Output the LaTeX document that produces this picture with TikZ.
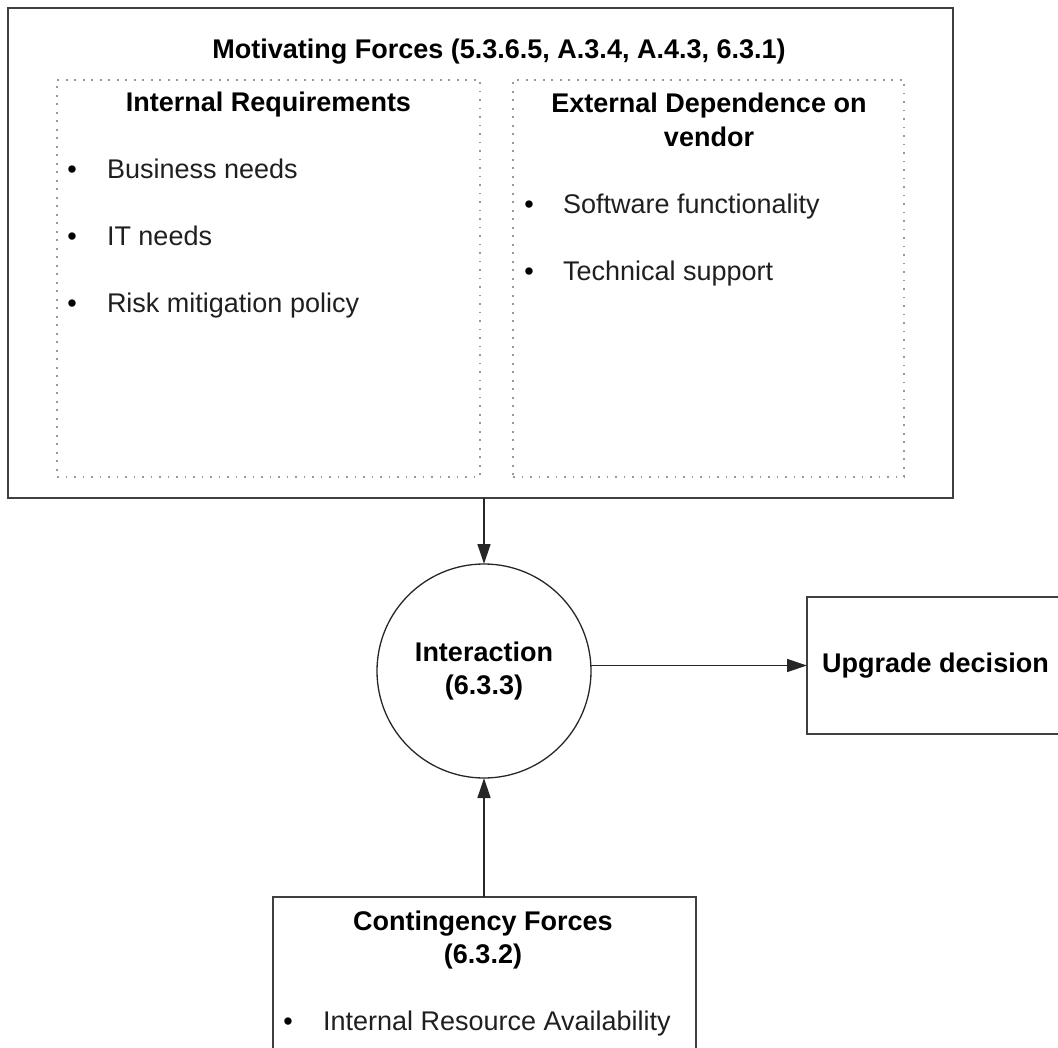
\documentclass[tikz,border=0pt]{standalone}
\usepackage{fontspec}
\setmainfont{Liberation Sans}
\usetikzlibrary{arrows.meta}
\begin{document}
\begin{tikzpicture}[x=1pt,y=-1pt,
  every node/.style={inner sep=0pt, outer sep=0pt, font=\fontsize{27}{33}\selectfont},
  mainbox/.style={rectangle, draw=black!75, line width=2.2pt},
  solidbox/.style={rectangle, draw=black!75, line width=1.6pt},
  dotbox/.style={rectangle, draw=black!40, line width=1.6pt, dash pattern=on 1.6pt off 6.9pt},
  ttl/.style={font=\fontsize{27}{33}\selectfont\bfseries, anchor=base},
  itm/.style={anchor=base west, text=black!88},
  bul/.style={anchor=base},
  arr/.style={-{Triangle[length=20pt,width=13pt]}, line width=1.3pt, draw=black!85}]
\useasboundingbox (0,0) rectangle (1058,1048);

% boxes
\node[mainbox, minimum width=945pt, minimum height=490pt] (main) at (480.5,253) {};
\node[dotbox, minimum width=423pt, minimum height=397pt] (intbox) at (268.5,278.5) {};
\node[dotbox, minimum width=391pt, minimum height=397pt] (extbox) at (708.5,278.5) {};
\node[circle, draw=black!85, line width=1.3pt, minimum size=214pt, align=center,
      font=\fontsize{27}{33}\selectfont\bfseries] (circ) at (484,671) {Interaction\\(6.3.3)};
\node[solidbox, minimum width=257pt, minimum height=137pt,
      font=\fontsize{27}{33}\selectfont\bfseries] (ud) at (935.5,665.5) {Upgrade decision};
\node[solidbox, minimum width=423pt, minimum height=159pt] (cbox) at (484.5,976.5) {};

% titles
\node[ttl] (mtitle) at (499,59) {Motivating Forces (5.3.6.5, A.3.4, A.4.3, 6.3.1)};
\node[ttl] (ititle) at (268.5,112) {Internal Requirements};
\node[ttl] (etitle1) at (709,113) {External Dependence on};
\node[ttl] (etitle2) at (709,147) {vendor};
\node[ttl] (ctitle1) at (483,930) {Contingency Forces};
\node[ttl] (ctitle2) at (483,963) {(6.3.2)};

% internal items
\node[bul] (ib1) at (72,179) {•};
\node[itm] (it1) at (107,179) {Business needs};
\node[bul] (ib2) at (72,246) {•};
\node[itm] (it2) at (107,246) {IT needs};
\node[bul] (ib3) at (72,313) {•};
\node[itm] (it3) at (107,313) {Risk mitigation policy};

% external items
\node[bul] (eb1) at (529,214) {•};
\node[itm] (et1) at (563,214) {Software functionality};
\node[bul] (eb2) at (529,281) {•};
\node[itm] (et2) at (563,281) {Technical support};

% contingency item
\node[bul] (cb1) at (288,1030) {•};
\node[itm] (ct1) at (323,1030) {Internal Resource Availability};

% connectors
\draw[arr] (circ.north |- main.south) -- (circ.north);
\draw[arr] (circ.south |- cbox.north) -- (circ.south);
\draw[arr] (ud.west -| circ.east) -- (ud.west);
\end{tikzpicture}
\end{document}
